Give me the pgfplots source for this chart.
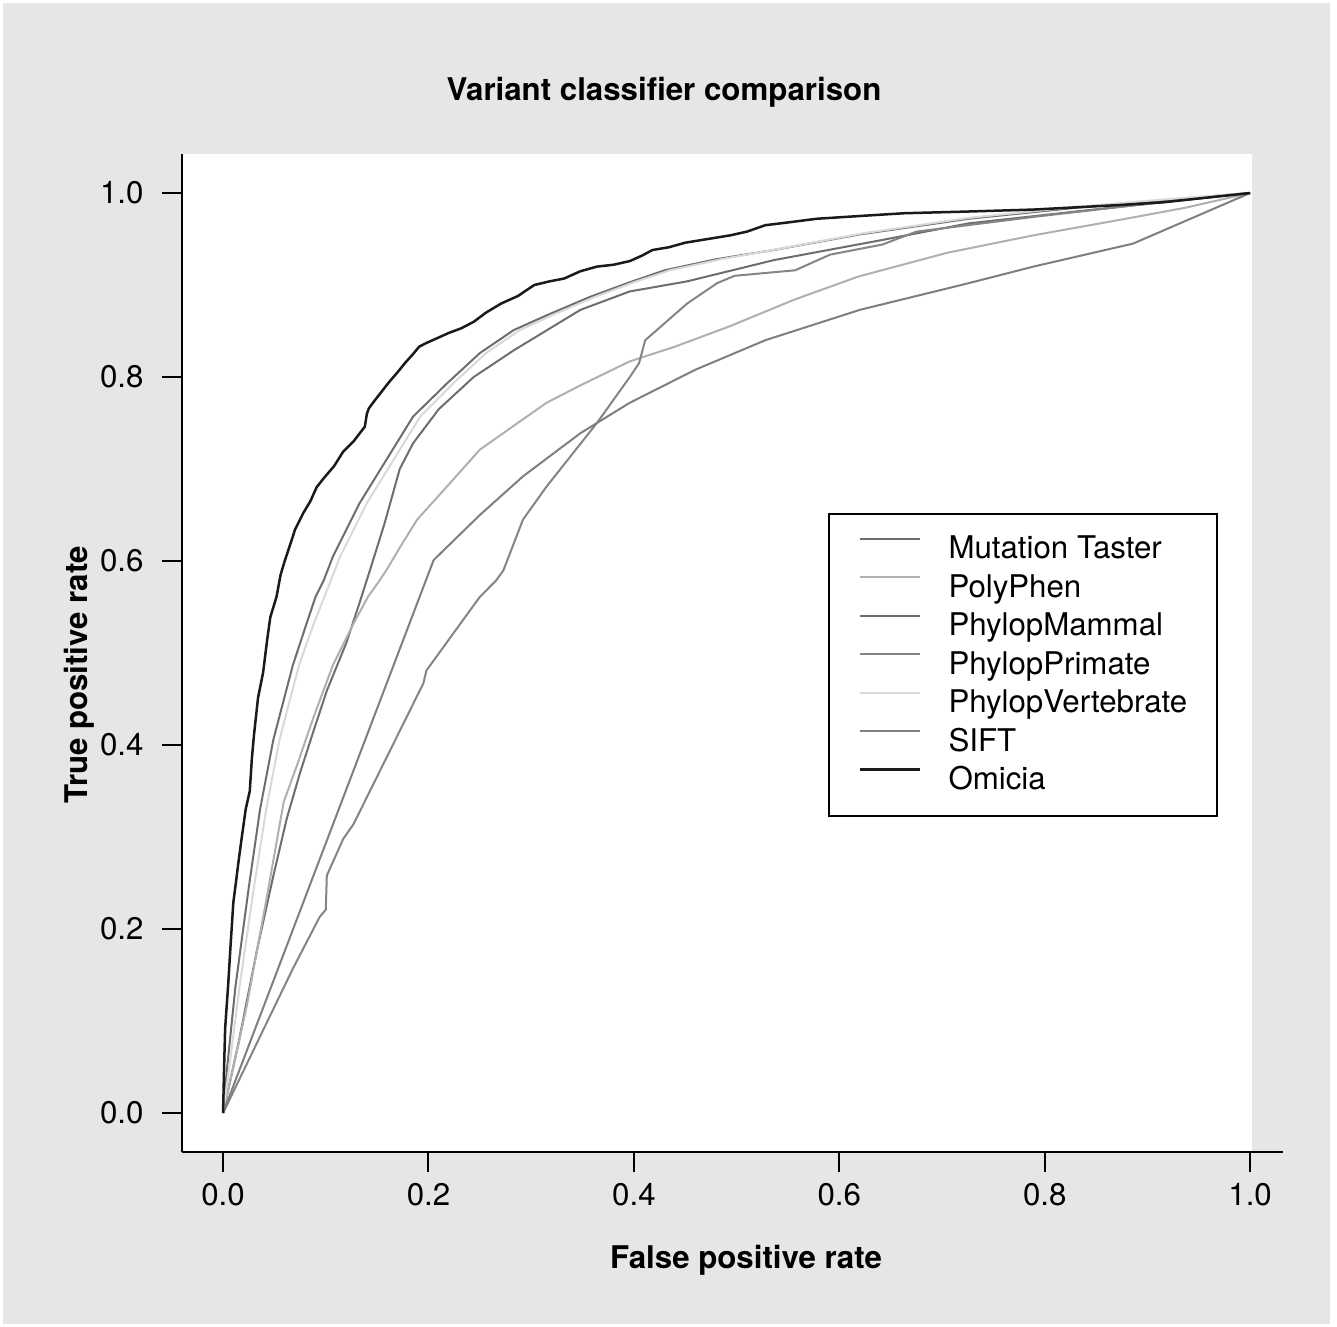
\documentclass[border=0pt]{standalone}
\usepackage{pgfplots}
\pgfplotsset{compat=1.18}
\usepackage{fontspec}
\setmainfont{TeX Gyre Heros}

\definecolor{panel}{HTML}{E6E6E6}
\definecolor{cmt}{HTML}{6E6E6E}
\definecolor{cpoly}{HTML}{B0B0B0}
\definecolor{cmam}{HTML}{6E6E6E}
\definecolor{cpri}{HTML}{858585}
\definecolor{cvert}{HTML}{D9D9D9}
\definecolor{csift}{HTML}{7F7F7F}
\definecolor{comi}{HTML}{1A1A1A}

\newcommand{\fs}{\fontsize{12.5}{15}\selectfont}

\begin{document}
\begin{tikzpicture}
% page and grey panel (1px = 0.4pt, origin at the axis corner)
\fill[white] (-72.8pt,-69.6pt) rectangle (462pt,460.8pt);
\fill[panel] (-71.6pt,-68.8pt) rectangle (459.2pt,459.6pt);
\begin{axis}[
    scale only axis,
    width=440.4pt, height=399.2pt,
    xmin=-0.04, xmax=1.032,
    ymin=-0.0424, ymax=1.0424,
    axis lines=left,
    axis line style={-, line width=0.8pt, black},
    axis on top,
    xtick pos=bottom, ytick pos=left,
    tick align=outside,
    major tick length=8pt,
    tick style={line width=0.8pt, black},
    xtick={0,0.2,0.4,0.6,0.8,1},
    ytick={0,0.2,0.4,0.6,0.8,1},
    ticklabel style={font=\fs},
    yticklabel style={anchor=east, inner sep=0pt, xshift=-7.2pt},
    xticklabel style={anchor=north, inner sep=0pt, yshift=-4.4pt},
    title={Variant classifier comparison},
    title style={font=\bfseries\fs, at={(axis description cs:0.4378,1.039)}, anchor=base},
    xlabel={False positive rate},
    xlabel style={font=\bfseries\fs, at={(axis description cs:0.5123,-0.1172)}, anchor=base},
    ylabel={True positive rate},
    ylabel style={font=\bfseries\fs, at={(axis description cs:-0.086,0.478)}, anchor=base},
    legend cell align=left,
    legend style={at={(axis cs:0.589,0.652)}, anchor=north west,
        draw=black, line width=0.8pt, fill=white,
        inner xsep=12pt, inner ysep=6.5pt, row sep=0pt,
        font=\fs,
        nodes={inner sep=0pt, text height=11.3pt, text depth=4.1pt},
        /tikz/every odd column/.append style={column sep=10.8pt}},
    legend image code/.code={\draw[#1] (0pt,4.4pt) -- (24pt,4.4pt);},
    /pgf/number format/.cd, fixed, fixed zerofill, precision=1, assume math mode=true
]
\fill[white] (axis cs:-0.04,-0.0424) rectangle (axis cs:1.002,1.0424);

% Mutation Taster
\addplot[color=cmt, line width=0.8pt] coordinates {
(0,0) (0.015,0.076) (0.033,0.177) (0.049,0.258) (0.062,0.320) (0.075,0.370)
(0.088,0.415) (0.101,0.459) (0.120,0.511) (0.133,0.555) (0.143,0.590)
(0.157,0.640) (0.172,0.700) (0.185,0.728) (0.210,0.765) (0.244,0.800)
(0.283,0.829) (0.348,0.873) (0.396,0.893) (0.452,0.904) (0.536,0.927)
(0.642,0.949) (0.726,0.967) (0.831,0.980) (0.916,0.990) (1,1)};
\addlegendentry{Mutation Taster}

% PolyPhen
\addplot[color=cpoly, line width=0.8pt] coordinates {
(0,0) (0.010,0.050) (0.023,0.116) (0.043,0.237) (0.059,0.338) (0.072,0.378)
(0.088,0.430) (0.107,0.487) (0.127,0.532) (0.141,0.561) (0.150,0.575)
(0.159,0.590) (0.175,0.620) (0.189,0.645) (0.218,0.681) (0.250,0.721)
(0.283,0.747) (0.315,0.772) (0.348,0.791) (0.396,0.817) (0.440,0.833)
(0.493,0.855) (0.556,0.884) (0.618,0.909) (0.705,0.935) (0.789,0.954)
(0.874,0.971) (0.937,0.984) (1,1)};
\addlegendentry{PolyPhen}

% PhylopMammal
\addplot[color=cmam, line width=0.8pt] coordinates {
(0,0) (0.004,0.050) (0.012,0.137) (0.025,0.245) (0.036,0.330) (0.049,0.406)
(0.068,0.487) (0.081,0.531) (0.090,0.561) (0.098,0.579) (0.107,0.605)
(0.133,0.663) (0.159,0.710) (0.185,0.757) (0.218,0.793) (0.250,0.826)
(0.283,0.851) (0.315,0.867) (0.357,0.887) (0.396,0.903) (0.430,0.916)
(0.480,0.928) (0.536,0.938) (0.620,0.955) (0.726,0.972) (0.831,0.984)
(0.916,0.992) (1,1)};
\addlegendentry{PhylopMammal}

% PhylopPrimate
\addplot[color=cpri, line width=0.8pt] coordinates {
(0,0) (0.068,0.157) (0.094,0.213) (0.100,0.221) (0.101,0.258) (0.117,0.298)
(0.127,0.314) (0.195,0.467) (0.198,0.481) (0.250,0.561) (0.266,0.579)
(0.273,0.590) (0.292,0.645) (0.315,0.681) (0.364,0.750) (0.396,0.800)
(0.405,0.815) (0.411,0.840) (0.452,0.880) (0.481,0.902) (0.498,0.910)
(0.557,0.916) (0.591,0.933) (0.642,0.944) (0.675,0.958) (0.789,0.974)
(0.890,0.987) (1,1)};
\addlegendentry{PhylopPrimate}

% PhylopVertebrate
\addplot[color=cvert, line width=0.8pt] coordinates {
(0,0) (0.006,0.050) (0.016,0.137) (0.030,0.245) (0.042,0.330) (0.055,0.406)
(0.074,0.487) (0.088,0.531) (0.105,0.579) (0.114,0.605) (0.140,0.663)
(0.166,0.710) (0.192,0.757) (0.224,0.793) (0.256,0.826) (0.289,0.851)
(0.320,0.867) (0.362,0.887) (0.400,0.903) (0.435,0.916) (0.485,0.928)
(0.540,0.939) (0.622,0.956) (0.726,0.973) (0.831,0.985) (0.916,0.993) (1,1)};
\addlegendentry{PhylopVertebrate}

% SIFT
\addplot[color=csift, line width=0.8pt] coordinates {
(0,0) (0.205,0.601) (0.250,0.650) (0.292,0.692) (0.348,0.739) (0.396,0.772)
(0.460,0.808) (0.528,0.840) (0.620,0.873) (0.726,0.902) (0.789,0.920)
(0.886,0.945) (1,1)};
\addlegendentry{SIFT}

% Omicia
\addplot[color=comi, line width=1pt] coordinates {
(0,0) (0.001,0.050) (0.002,0.092) (0.005,0.140) (0.007,0.177) (0.010,0.229)
(0.013,0.255) (0.015,0.273) (0.018,0.298) (0.022,0.330) (0.026,0.350)
(0.028,0.385) (0.030,0.410) (0.034,0.451) (0.039,0.479) (0.043,0.515)
(0.046,0.539) (0.052,0.561) (0.056,0.585) (0.060,0.600) (0.066,0.620)
(0.070,0.634) (0.078,0.652) (0.085,0.665) (0.091,0.680) (0.098,0.690)
(0.108,0.703) (0.117,0.719) (0.127,0.730) (0.138,0.746) (0.140,0.760)
(0.142,0.766) (0.148,0.775) (0.155,0.785) (0.162,0.795) (0.169,0.804)
(0.177,0.815) (0.185,0.825) (0.191,0.833) (0.198,0.837) (0.208,0.842)
(0.220,0.848) (0.232,0.853) (0.244,0.860) (0.256,0.870) (0.271,0.880)
(0.287,0.888) (0.303,0.900) (0.318,0.904) (0.332,0.907) (0.348,0.915)
(0.364,0.920) (0.380,0.922) (0.396,0.926) (0.408,0.932) (0.418,0.938)
(0.434,0.941) (0.450,0.946) (0.472,0.950) (0.494,0.954) (0.510,0.958)
(0.528,0.965) (0.550,0.968) (0.578,0.972) (0.620,0.975) (0.663,0.978)
(0.730,0.980) (0.789,0.982) (0.874,0.987) (0.916,0.990) (1,1)};
\addlegendentry{Omicia}
\end{axis}
\pgfresetboundingbox
\useasboundingbox (-72.8pt,-69.6pt) rectangle (462pt,460.8pt);
\end{tikzpicture}
\end{document}
